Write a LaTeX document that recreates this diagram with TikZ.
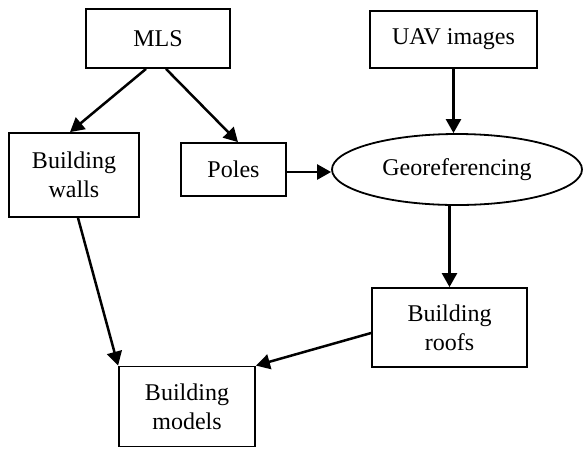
\documentclass[tikz,border=0pt]{standalone}
\usepackage{fontspec}
\setmainfont{Liberation Serif}
\usetikzlibrary{arrows.meta,shapes.geometric}
\tikzset{
  box/.style={draw,line width=1.8pt,inner sep=0pt,align=center,font=\fontsize{24}{29}\selectfont},
  oval/.style={draw,ellipse,line width=1.8pt,inner sep=0pt,align=center,font=\fontsize{24}{29}\selectfont},
  arr/.style={line width=2.5pt,-{Triangle[length=14pt,width=15pt]}}
}
\begin{document}
\begin{tikzpicture}[x=1pt,y=-1pt]
\useasboundingbox (0,0) rectangle (583,448);
\node[box,minimum width=144pt,minimum height=59pt] (mls) at (158,38.5) {MLS};
\node[box,minimum width=167pt,minimum height=57pt] (uav) at (453.5,39.5) {UAV images};
\node[box,minimum width=130pt,minimum height=84pt] (walls) at (74,175) {Building\\walls};
\node[box,minimum width=105pt,minimum height=53pt] (poles) at (233.5,169.5) {Poles};
\node[oval,minimum width=250pt,minimum height=71pt] (geo) at (457,169.5) {Georeferencing};
\node[box,minimum width=155pt,minimum height=79pt] (roofs) at (449.5,327.5) {Building\\roofs};
\node[box,minimum width=136pt,minimum height=80pt] (models) at (187,406.5) {Building\\models};
\draw[arr] ([xshift=-12pt]mls.south) -- ([xshift=-4pt]walls.north);
\draw[arr] ([xshift=8pt]mls.south) -- ([xshift=4.5pt]poles.north);
\draw[arr] (uav.south) -- (uav.south |- geo.north);
\draw[arr] ([yshift=-2.5pt]poles.east) -- ([yshift=-2.5pt]poles.east -| geo.west);
\draw[arr] (roofs.north |- geo.south) -- (roofs.north);
\draw[arr] ([xshift=4pt]walls.south) -- (models.north west);
\draw[arr] ([yshift=-5.5pt]roofs.west) -- (models.north east);
\end{tikzpicture}
\end{document}
